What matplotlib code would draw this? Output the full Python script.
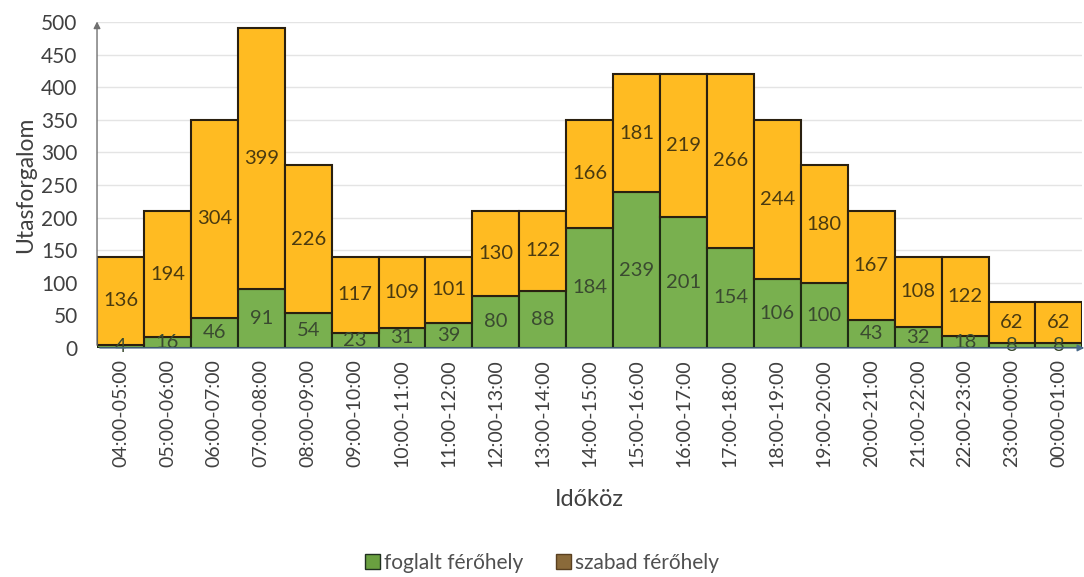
import numpy as np
import matplotlib.pyplot as plt
from matplotlib.patches import Patch

plt.rcParams['font.family'] = ['Lato', 'DejaVu Sans']

# data
idokoz = ['04:00-05:00', '05:00-06:00', '06:00-07:00', '07:00-08:00', '08:00-09:00',
          '09:00-10:00', '10:00-11:00', '11:00-12:00', '12:00-13:00', '13:00-14:00',
          '14:00-15:00', '15:00-16:00', '16:00-17:00', '17:00-18:00', '18:00-19:00',
          '19:00-20:00', '20:00-21:00', '21:00-22:00', '22:00-23:00', '23:00-00:00',
          '00:00-01:00']
foglalt = [4, 16, 46, 91, 54, 23, 31, 39, 80, 88, 184, 239, 201, 154, 106, 100, 43, 32, 18, 8, 8]
szabad = [136, 194, 304, 399, 226, 117, 109, 101, 130, 122, 166, 181, 219, 266, 244, 180, 167, 108, 122, 62, 62]

green = '#79b04f'
orange = '#ffbb22'
txt = '#404040'

fig = plt.figure(figsize=(10.84, 5.77), dpi=100)
ax = fig.add_axes([0.0895, 0.397, 0.909, 0.565])

x = np.arange(len(idokoz))
ax.bar(x, foglalt, width=1.0, color=green, edgecolor='#1e2a14', linewidth=1.5, zorder=3)
ax.bar(x, szabad, width=1.0, bottom=foglalt, color=orange, edgecolor='#2a2010', linewidth=1.5, zorder=3)

for i in range(len(x)):
    ax.text(x[i], foglalt[i] / 2, str(foglalt[i]), ha='center', va='center',
            fontsize=14.5, color='#3a4a30', zorder=4)
    ax.text(x[i], foglalt[i] + szabad[i] / 2, str(szabad[i]), ha='center', va='center',
            fontsize=14.5, color='#4a3a10', zorder=4)

ax.set_xlim(-0.5, len(x) - 0.5)
ax.set_ylim(0, 500)
ax.set_yticks(np.arange(0, 501, 50))
ax.yaxis.grid(True, color='#e4e4e4', linewidth=1, zorder=0)
ax.set_xticks(x)
ax.set_xticklabels(idokoz, rotation=90, fontsize=14, color=txt)
ax.tick_params(axis='y', labelsize=15, colors=txt, length=0, pad=14)
ax.tick_params(axis='x', length=0, pad=8)
for s in ax.spines.values():
    s.set_visible(False)

# axis arrows
ax.annotate('', xy=(-0.5, 505), xytext=(-0.5, 0), annotation_clip=False,
            arrowprops=dict(arrowstyle='-|>', color='#707070', lw=1, mutation_scale=10))
ax.annotate('', xy=(20.6, 0), xytext=(-0.5, 0), annotation_clip=False,
            arrowprops=dict(arrowstyle='-|>', color='#4a6a8a', lw=1, mutation_scale=10), zorder=5)

ax.set_ylabel('Utasforgalom', fontsize=16.5, color=txt, labelpad=4)
ax.set_xlabel('Időköz', fontsize=17, color=txt, labelpad=16)

handles = [Patch(facecolor='#6aa040', edgecolor='#203020', label='foglalt férőhely'),
           Patch(facecolor='#8a6a3a', edgecolor='#5a4020', label='szabad férőhely')]
fig.legend(handles=handles, loc='lower center', bbox_to_anchor=(0.5, -0.025), ncol=2, frameon=False,
           fontsize=15, labelcolor='#505050', handlelength=0.7, handleheight=0.7,
           handletextpad=0.2, columnspacing=1.6)

fig.savefig('out.png', dpi=100)
